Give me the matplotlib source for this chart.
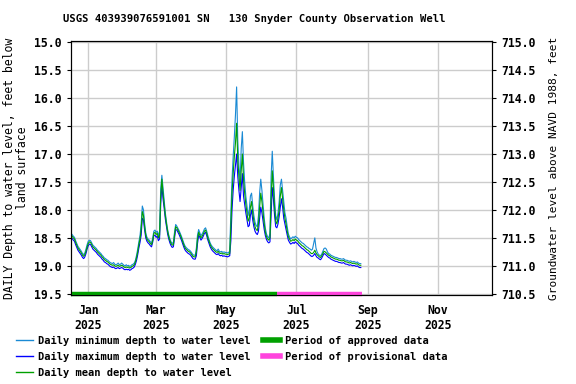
import matplotlib
matplotlib.use("Agg")
import matplotlib.pyplot as plt
from matplotlib.lines import Line2D
import pandas as pd

# Daily values, starting 2024-12-17 (depth to water, feet below land surface)
start_day = "2024-12-17"
mean_depth = [
    18.45, 18.47, 18.50, 18.52, 18.58, 18.63, 18.68, 18.71, 18.74, 18.77,
    18.81, 18.83, 18.80, 18.74, 18.66, 18.60, 18.57, 18.58, 18.62, 18.66,
    18.68, 18.70, 18.72, 18.75, 18.77, 18.79, 18.81, 18.84, 18.86, 18.89,
    18.90, 18.92, 18.93, 18.95, 18.97, 18.98, 18.99, 18.98, 19.00, 19.01,
    19.00, 18.99, 19.01, 19.00, 18.99, 19.00, 19.02, 19.03, 19.02, 19.03,
    19.02, 19.04, 19.03, 19.01, 19.00, 18.98, 18.93, 18.85, 18.75, 18.62,
    18.52, 18.35, 18.03, 18.10, 18.30, 18.45, 18.52, 18.55, 18.57, 18.60,
    18.62, 18.55, 18.42, 18.40, 18.44,
    18.42, 18.50, 18.45, 17.75, 17.45, 17.70, 17.90, 18.10, 18.25, 18.38,
    18.48, 18.55, 18.60, 18.63, 18.62, 18.45, 18.30, 18.32, 18.36, 18.40,
    18.45, 18.50, 18.56, 18.62, 18.67, 18.70, 18.72, 18.74, 18.75, 18.77,
    18.80, 18.83, 18.84, 18.84, 18.75, 18.52, 18.40, 18.45, 18.50, 18.47,
    18.43, 18.38, 18.36, 18.42, 18.50, 18.56, 18.62, 18.66, 18.69, 18.71,
    18.73, 18.75, 18.76, 18.74, 18.77, 18.78, 18.77, 18.79, 18.78, 18.79,
    18.79, 18.80, 18.79, 18.78, 18.30, 17.70, 17.35, 17.05, 16.80, 16.45,
    17.10, 17.40, 17.65, 17.30, 17.00, 17.45, 17.70, 17.90, 18.05, 18.20,
    18.15, 17.95, 17.85, 18.05, 18.20, 18.30, 18.35, 18.37, 18.25, 17.95,
    17.70, 17.85, 18.05, 18.25, 18.40, 18.48, 18.52, 18.54, 18.50, 17.80,
    17.30, 17.60, 17.95, 18.20, 18.25, 18.15, 18.00, 17.75, 17.60, 17.80,
    18.00, 18.15, 18.25, 18.38, 18.48, 18.52, 18.56, 18.55, 18.53, 18.55,
    18.52, 18.54, 18.55, 18.58, 18.60, 18.62, 18.64, 18.65, 18.67, 18.69,
    18.71, 18.72, 18.74, 18.76, 18.78, 18.78, 18.76, 18.72, 18.77, 18.80,
    18.82, 18.84, 18.85, 18.82, 18.78, 18.74, 18.75, 18.77, 18.79, 18.81,
    18.82, 18.84, 18.85, 18.86, 18.87, 18.88, 18.88, 18.89, 18.90, 18.90,
    18.91, 18.91, 18.90, 18.92, 18.93, 18.93, 18.94, 18.95, 18.94, 18.95,
    18.96, 18.95, 18.96, 18.97, 18.96, 18.98, 18.99, 18.99,
]
min_depth = [
    18.42, 18.44, 18.47, 18.49, 18.55, 18.60, 18.65, 18.68, 18.71, 18.74,
    18.78, 18.80, 18.77, 18.70, 18.62, 18.56, 18.54, 18.55, 18.59, 18.63,
    18.65, 18.67, 18.69, 18.72, 18.74, 18.76, 18.78, 18.81, 18.83, 18.86,
    18.87, 18.89, 18.90, 18.92, 18.94, 18.95, 18.96, 18.94, 18.97, 18.98,
    18.97, 18.95, 18.98, 18.97, 18.95, 18.97, 18.99, 19.00, 18.98, 19.00,
    18.99, 19.01, 19.00, 18.98, 18.97, 18.95, 18.90, 18.81, 18.70, 18.57,
    18.46, 18.25, 17.93, 18.00, 18.24, 18.41, 18.49, 18.52, 18.54, 18.57,
    18.59, 18.51, 18.38, 18.36, 18.40,
    18.38, 18.46, 18.38, 17.62, 17.38, 17.60, 17.84, 18.05, 18.21, 18.35,
    18.45, 18.52, 18.57, 18.60, 18.58, 18.40, 18.26, 18.29, 18.33, 18.37,
    18.42, 18.47, 18.53, 18.59, 18.64, 18.67, 18.69, 18.71, 18.72, 18.74,
    18.77, 18.80, 18.81, 18.81, 18.68, 18.45, 18.35, 18.41, 18.46, 18.43,
    18.39, 18.34, 18.32, 18.38, 18.46, 18.53, 18.59, 18.63, 18.66, 18.68,
    18.70, 18.72, 18.73, 18.70, 18.74, 18.75, 18.74, 18.76, 18.75, 18.76,
    18.76, 18.77, 18.76, 18.74, 18.05, 17.45, 17.05, 16.70, 16.30, 15.80,
    16.75, 17.20, 17.50, 16.90, 16.60, 17.15, 17.50, 17.75, 17.92, 18.10,
    18.00, 17.75, 17.70, 17.92, 18.10, 18.22, 18.28, 18.30, 18.10, 17.70,
    17.45, 17.65, 17.90, 18.15, 18.33, 18.43, 18.48, 18.50, 18.42, 17.40,
    16.95, 17.40, 17.80, 18.10, 18.18, 18.05, 17.85, 17.55, 17.45, 17.65,
    17.85, 18.05, 18.15, 18.30, 18.43, 18.48, 18.52, 18.50, 18.48, 18.50,
    18.47, 18.49, 18.50, 18.53, 18.55, 18.57, 18.59, 18.60, 18.62, 18.64,
    18.66, 18.67, 18.69, 18.70, 18.72, 18.70, 18.60, 18.50, 18.68, 18.75,
    18.79, 18.81, 18.82, 18.79, 18.74, 18.69, 18.68, 18.70, 18.75, 18.78,
    18.79, 18.81, 18.82, 18.83, 18.84, 18.85, 18.85, 18.86, 18.87, 18.87,
    18.88, 18.88, 18.87, 18.89, 18.90, 18.90, 18.91, 18.92, 18.91, 18.92,
    18.93, 18.92, 18.93, 18.94, 18.93, 18.95, 18.96, 18.96,
]
max_depth = [
    18.49, 18.51, 18.54, 18.56, 18.62, 18.67, 18.72, 18.75, 18.78, 18.81,
    18.85, 18.87, 18.84, 18.78, 18.70, 18.64, 18.61, 18.62, 18.66, 18.70,
    18.72, 18.74, 18.76, 18.79, 18.81, 18.83, 18.85, 18.88, 18.90, 18.93,
    18.94, 18.96, 18.97, 18.99, 19.01, 19.02, 19.03, 19.02, 19.04, 19.05,
    19.04, 19.03, 19.05, 19.04, 19.03, 19.04, 19.06, 19.07, 19.06, 19.07,
    19.06, 19.08, 19.07, 19.05, 19.04, 19.02, 18.97, 18.90, 18.80, 18.68,
    18.58, 18.45, 18.15, 18.18, 18.36, 18.50, 18.56, 18.59, 18.61, 18.64,
    18.66, 18.58, 18.46, 18.45, 18.49,
    18.47, 18.55, 18.52, 17.90, 17.55, 17.80, 17.97, 18.16, 18.30, 18.43,
    18.52, 18.59, 18.64, 18.67, 18.66, 18.50, 18.35, 18.36, 18.40, 18.44,
    18.49, 18.54, 18.60, 18.66, 18.71, 18.74, 18.76, 18.78, 18.79, 18.81,
    18.84, 18.87, 18.88, 18.88, 18.82, 18.60, 18.45, 18.49, 18.54, 18.51,
    18.47, 18.42, 18.40, 18.46, 18.54, 18.60, 18.66, 18.70, 18.73, 18.75,
    18.77, 18.79, 18.80, 18.78, 18.81, 18.82, 18.81, 18.83, 18.82, 18.83,
    18.83, 18.84, 18.83, 18.82, 18.55, 18.00, 17.65, 17.40, 17.20, 17.00,
    17.40, 17.65, 17.85, 17.60, 17.35, 17.75, 17.90, 18.05, 18.18, 18.30,
    18.28, 18.10, 18.00, 18.18, 18.30, 18.38, 18.42, 18.44, 18.38, 18.15,
    17.95, 18.05, 18.20, 18.35, 18.46, 18.53, 18.57, 18.59, 18.57, 18.10,
    17.60, 17.80, 18.10, 18.30, 18.32, 18.25, 18.12, 17.95, 17.80, 17.95,
    18.15, 18.25, 18.35, 18.45, 18.54, 18.58, 18.61, 18.60, 18.58, 18.60,
    18.57, 18.59, 18.60, 18.63, 18.65, 18.67, 18.69, 18.70, 18.72, 18.74,
    18.76, 18.77, 18.79, 18.81, 18.83, 18.83, 18.81, 18.78, 18.82, 18.85,
    18.86, 18.88, 18.89, 18.86, 18.82, 18.78, 18.79, 18.81, 18.83, 18.85,
    18.86, 18.88, 18.89, 18.90, 18.91, 18.92, 18.92, 18.93, 18.94, 18.94,
    18.95, 18.95, 18.94, 18.96, 18.97, 18.97, 18.98, 18.99, 18.98, 18.99,
    19.00, 18.99, 19.00, 19.01, 19.00, 19.02, 19.03, 19.03,
]

approved_period = ["2024-12-17", "2025-06-14"]
provisional_period = ["2025-06-14", "2025-08-27"]
land_surface = 730.0  # NAVD 1988 datum offset
tick_dates = ["2025-01-01", "2025-03-01", "2025-05-01", "2025-07-01", "2025-09-01", "2025-11-01"]
tick_labels = ["Jan\n2025", "Mar\n2025", "May\n2025", "Jul\n2025", "Sep\n2025", "Nov\n2025"]
depth_ticks = [15.0, 15.5, 16.0, 16.5, 17.0, 17.5, 18.0, 18.5, 19.0, 19.5]

days = pd.date_range(start_day, periods=len(mean_depth), freq="D")

plt.rcParams["font.family"] = "DejaVu Sans Mono"
plt.rcParams["font.weight"] = "bold"
plt.rcParams["font.size"] = 8

fig = plt.figure(figsize=(5.76, 3.84), dpi=100)
ax = fig.add_axes([0.1233, 0.2305, 0.7307, 0.664])

c_min = "#1a8ad4"
c_max = "#0000ff"
c_mean = "#00a000"
c_prov = "#ff44dd"

ax.plot(days, max_depth, color=c_max, lw=0.8, zorder=3)
ax.plot(days, min_depth, color=c_min, lw=0.8, zorder=4)
ax.plot(days, mean_depth, color=c_mean, lw=0.8, zorder=5)

# data-approval status bars along the bottom
ax.plot(pd.to_datetime(approved_period), [19.5, 19.5], color=c_mean, lw=3.2,
        solid_capstyle="butt", zorder=6, clip_on=False)
ax.plot(pd.to_datetime(provisional_period), [19.5, 19.5], color=c_prov, lw=3.2,
        solid_capstyle="butt", zorder=6, clip_on=False)

ax.set_xlim(pd.Timestamp("2024-12-17"), pd.Timestamp("2025-12-18"))
ax.set_ylim(19.53, 14.97)
ax.set_yticks(depth_ticks)
ax.set_yticklabels([f"{v:.1f}" for v in depth_ticks], fontsize=8.3)
ax.set_xticks(pd.to_datetime(tick_dates))
ax.set_xticklabels(tick_labels, fontsize=8.3)
ax.tick_params(axis="x", length=0, pad=6)
ax.tick_params(axis="y", length=3, direction="out")
ax.grid(True, color="#cccccc", lw=1)
ax.set_axisbelow(True)

ax.set_ylabel("DAILY Depth to water level, feet below\nland surface", fontsize=8.3,
              linespacing=0.95, labelpad=4)

ax2 = ax.twinx()
ax2.set_ylim(land_surface - 19.53, land_surface - 14.97)
ax2.set_yticks([land_surface - v for v in depth_ticks])
ax2.set_yticklabels([f"{land_surface - v:.1f}" for v in depth_ticks], fontsize=8.3)
ax2.tick_params(axis="y", length=3, direction="out")
ax2.set_ylabel("Groundwater level above NAVD 1988, feet", fontsize=8, labelpad=10)

fig.text(63 / 576, 1 - 19 / 384, "USGS 403939076591001 SN   130 Snyder County Observation Well",
         ha="left", va="center", fontsize=7.6)

handles = [
    Line2D([], [], color=c_min, lw=1),
    Line2D([], [], color=c_max, lw=1),
    Line2D([], [], color=c_mean, lw=1),
    Line2D([], [], color=c_mean, lw=4),
    Line2D([], [], color=c_prov, lw=4),
]
labels = [
    "Daily minimum depth to water level",
    "Daily maximum depth to water level",
    "Daily mean depth to water level",
    "Period of approved data",
    "Period of provisional data",
]
fig.legend(handles, labels, ncol=2, loc="upper left", bbox_to_anchor=(0.028, 0.125),
           frameon=False, fontsize=7.5, handlelength=1.6, handletextpad=0.5,
           columnspacing=1.2, labelspacing=0.55, borderaxespad=0, borderpad=0)

fig.savefig("out.png", dpi=100)
